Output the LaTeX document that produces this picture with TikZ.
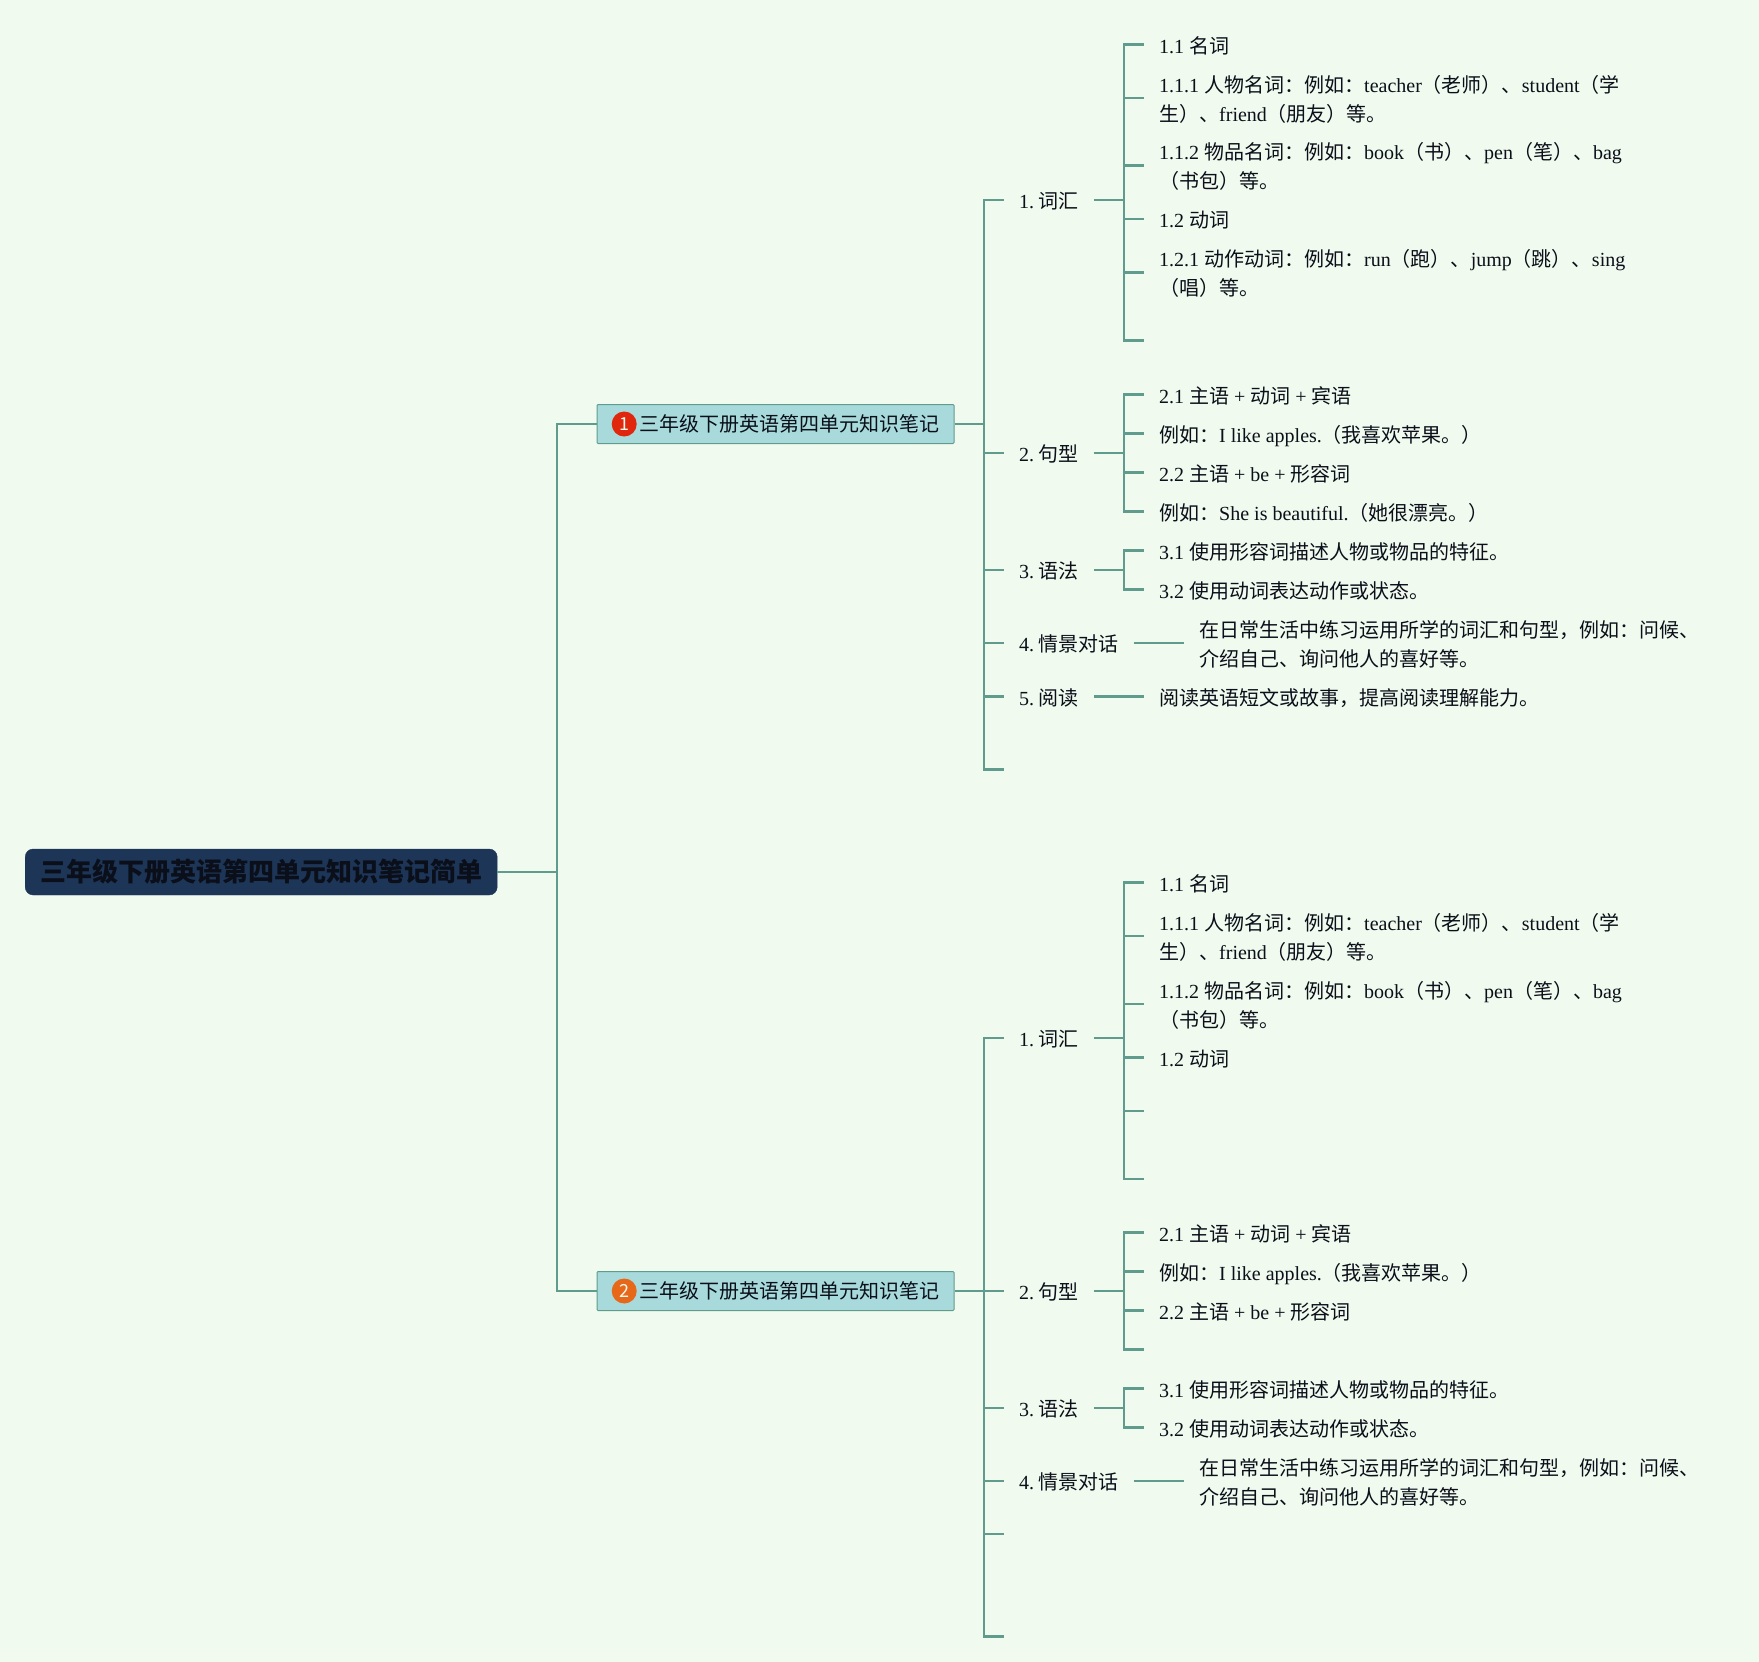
\documentclass[tikz,border=0pt]{standalone}
\usepackage{fontspec}
\usetikzlibrary{positioning}
\setmainfont{Liberation Serif}
\newfontfamily\cjk{Noto Sans CJK SC}
\definecolor{mapbg}{HTML}{F1FAEE}
\definecolor{mapline}{HTML}{5F9C8E}
\definecolor{mapnavy}{HTML}{1D3557}
\definecolor{mapink}{HTML}{0A0F1A}
\definecolor{mapbox}{HTML}{A8DADC}
\definecolor{mapred}{HTML}{E0260C}
\definecolor{maporange}{HTML}{E8681A}
\newcommand{\zh}[1]{{\cjk #1}}
\newcommand{\tx}[1]{\rule{0pt}{23.2pt}#1\rule[-5.8pt]{0pt}{5.8pt}}
\newcommand{\nr}[1]{#1.\kern4.5pt}
\tikzset{
  link/.style={mapline,line width=2.2pt},
  rootnode/.style={anchor=west,fill=mapnavy,draw=mapnavy,rounded corners=8pt,minimum width=472pt,minimum height=46pt,inner sep=0pt,text=mapink,font=\fontsize{26pt}{30pt}\selectfont\bfseries},
  mainnode/.style={anchor=west,fill=mapbox,draw=mapline,line width=1pt,rounded corners=1pt,minimum width=357pt,minimum height=39pt,inner xsep=14pt,inner ysep=0pt,text=mapink,font=\fontsize{20pt}{24pt}\selectfont,align=right},
  badge/.style={circle,inner sep=0pt,minimum size=25pt,text=mapbg,font=\fontsize{18pt}{20pt}\selectfont\cjk},
  topic/.style={anchor=west,inner xsep=15pt,inner ysep=0pt,text=mapink,font=\fontsize{20pt}{28.7pt}\selectfont,align=left},
}
\begin{document}
\begin{tikzpicture}[x=1pt,y=-1pt]
  \fill[mapbg,use as bounding box] (0,0) rectangle (1759,1662);
  % root and the two main topics
  \node[rootnode] (root) at (25,872) {\kern1pt\zh{三年级下册英语第四单元知识笔记简单}};
  \node[mainnode] (mainA) at (596.5,424) {\hspace*{28pt}\zh{三年级下册英语第四单元知识笔记}};
  \node[mainnode] (mainB) at (596.5,1291) {\hspace*{28pt}\zh{三年级下册英语第四单元知识笔记}};
  \node[badge,fill=mapred,right=15pt of mainA.west] (badgeA) {1};
  \node[badge,fill=maporange,right=15pt of mainB.west] (badgeB) {2};
  \coordinate (forkRoot) at (557,872);
  \coordinate (forkA) at (984,424);
  \coordinate (forkB) at (984,1291);
  % first main topic
  \node[topic] (aCi) at (1004,200) {\tx{\nr{1}\zh{词汇}}};
  \node[topic] (aJu) at (1004,453) {\tx{\nr{2}\zh{句型}}};
  \node[topic] (aYu) at (1004,570) {\tx{\nr{3}\zh{语法}}};
  \node[topic] (aQing) at (1004,643) {\tx{\nr{4}\zh{情景对话}}};
  \node[topic] (aYue) at (1004,696.5) {\tx{\nr{5}\zh{阅读}}};
  \coordinate (aEnd) at (1004,769.5);
  \coordinate (forkACi) at (1124,200);
  \coordinate (forkAJu) at (1124,453);
  \coordinate (forkAYu) at (1124,570);
  \node[topic] (aCi1) at (1144,44.5) {\tx{1.1 \zh{名词}}};
  \node[topic] (aCi2) at (1144,98) {\tx{1.1.1 \zh{人物名词：例如：}teacher\zh{（老师）、}student\zh{（学}\\\zh{生）、}friend\zh{（朋友）等。}}};
  \node[topic] (aCi3) at (1144,165.5) {\tx{1.1.2 \zh{物品名词：例如：}book\zh{（书）、}pen\zh{（笔）、}bag\\\zh{（书包）等。}}};
  \node[topic] (aCi4) at (1144,219) {\tx{1.2 \zh{动词}}};
  \node[topic] (aCi5) at (1144,272.5) {\tx{1.2.1 \zh{动作动词：例如：}run\zh{（跑）、}jump\zh{（跳）、}sing\\\zh{（唱）等。}}};
  \coordinate (aCi6) at (1144,340.5);
  \node[topic] (aJu1) at (1144,394.5) {\tx{2.1 \zh{主语} + \zh{动词} + \zh{宾语}}};
  \node[topic] (aJu2) at (1144,433.5) {\tx{\zh{例如：}I like apples.\zh{（我喜欢苹果。）}}};
  \node[topic] (aJu3) at (1144,472.5) {\tx{2.2 \zh{主语} + be + \zh{形容词}}};
  \node[topic] (aJu4) at (1144,511.5) {\tx{\zh{例如：}She is beautiful.\zh{（她很漂亮。）}}};
  \node[topic] (aYu1) at (1144,550.5) {\tx{3.1 \zh{使用形容词描述人物或物品的特征。}}};
  \node[topic] (aYu2) at (1144,589.5) {\tx{3.2 \zh{使用动词表达动作或状态。}}};
  \node[topic] (aQing1) at (1184,643) {\tx{\zh{在日常生活中练习运用所学的词汇和句型，例如：问候、}\\\zh{介绍自己、询问他人的喜好等。}}};
  \node[topic] (aYue1) at (1144,696.5) {\tx{\zh{阅读英语短文或故事，提高阅读理解能力。}}};
  % second main topic
  \node[topic] (bCi) at (1004,1038) {\tx{\nr{1}\zh{词汇}}};
  \node[topic] (bJu) at (1004,1291) {\tx{\nr{2}\zh{句型}}};
  \node[topic] (bYu) at (1004,1408) {\tx{\nr{3}\zh{语法}}};
  \node[topic] (bQing) at (1004,1481) {\tx{\nr{4}\zh{情景对话}}};
  \coordinate (bYue) at (1004,1534);
  \coordinate (bEnd) at (1004,1636.5);
  \coordinate (forkBCi) at (1124,1038);
  \coordinate (forkBJu) at (1124,1291);
  \coordinate (forkBYu) at (1124,1408);
  \node[topic] (bCi1) at (1144,882.5) {\tx{1.1 \zh{名词}}};
  \node[topic] (bCi2) at (1144,936) {\tx{1.1.1 \zh{人物名词：例如：}teacher\zh{（老师）、}student\zh{（学}\\\zh{生）、}friend\zh{（朋友）等。}}};
  \node[topic] (bCi3) at (1144,1004) {\tx{1.1.2 \zh{物品名词：例如：}book\zh{（书）、}pen\zh{（笔）、}bag\\\zh{（书包）等。}}};
  \node[topic] (bCi4) at (1144,1057.5) {\tx{1.2 \zh{动词}}};
  \coordinate (bCi5) at (1144,1111);
  \coordinate (bCi6) at (1144,1179);
  \node[topic] (bJu1) at (1144,1232.5) {\tx{2.1 \zh{主语} + \zh{动词} + \zh{宾语}}};
  \node[topic] (bJu2) at (1144,1271.5) {\tx{\zh{例如：}I like apples.\zh{（我喜欢苹果。）}}};
  \node[topic] (bJu3) at (1144,1310.5) {\tx{2.2 \zh{主语} + be + \zh{形容词}}};
  \coordinate (bJu4) at (1144,1349.5);
  \node[topic] (bYu1) at (1144,1388.5) {\tx{3.1 \zh{使用形容词描述人物或物品的特征。}}};
  \node[topic] (bYu2) at (1144,1427.5) {\tx{3.2 \zh{使用动词表达动作或状态。}}};
  \node[topic] (bQing1) at (1184,1481) {\tx{\zh{在日常生活中练习运用所学的词汇和句型，例如：问候、}\\\zh{介绍自己、询问他人的喜好等。}}};
  % connectors
  \draw[link] (root.east) -- (forkRoot);
  \foreach \n in {mainA,mainB} \draw[link] (forkRoot) |- (\n.west);
  \draw[link] (mainA.east) -- (forkA);
  \draw[link] (mainB.east) -- (forkB);
  \foreach \n in {aCi,aJu,aYu,aQing,aYue,aEnd} \draw[link] (forkA) |- (\n.west);
  \foreach \n in {bCi,bJu,bYu,bQing,bYue,bEnd} \draw[link] (forkB) |- (\n.west);
  \draw[link] (aCi.east) -- (forkACi);
  \draw[link] (aJu.east) -- (forkAJu);
  \draw[link] (aYu.east) -- (forkAYu);
  \draw[link] (bCi.east) -- (forkBCi);
  \draw[link] (bJu.east) -- (forkBJu);
  \draw[link] (bYu.east) -- (forkBYu);
  \foreach \n in {aCi1,aCi2,aCi3,aCi4,aCi5,aCi6} \draw[link] (forkACi) |- (\n.west);
  \foreach \n in {aJu1,aJu2,aJu3,aJu4} \draw[link] (forkAJu) |- (\n.west);
  \foreach \n in {aYu1,aYu2} \draw[link] (forkAYu) |- (\n.west);
  \foreach \n in {bCi1,bCi2,bCi3,bCi4,bCi5,bCi6} \draw[link] (forkBCi) |- (\n.west);
  \foreach \n in {bJu1,bJu2,bJu3,bJu4} \draw[link] (forkBJu) |- (\n.west);
  \foreach \n in {bYu1,bYu2} \draw[link] (forkBYu) |- (\n.west);
  \draw[link] (aQing.east) -- (aQing1.west);
  \draw[link] (aYue.east) -- (aYue1.west);
  \draw[link] (bQing.east) -- (bQing1.west);
\end{tikzpicture}
\end{document}
